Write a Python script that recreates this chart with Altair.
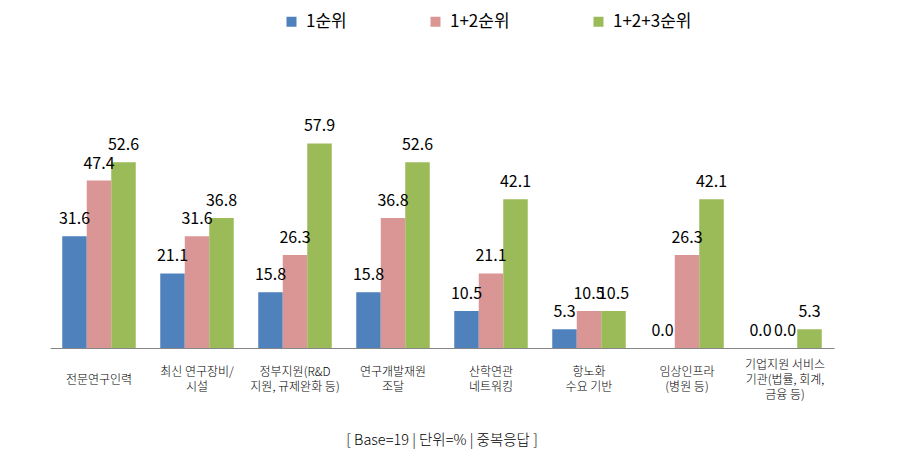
import altair as alt
import pandas as pd

categories = [
    "전문연구인력",
    "최신 연구장비/\n시설",
    "정부지원(R&D\n지원, 규제완화 등)",
    "연구개발재원\n조달",
    "산학연관\n네트워킹",
    "항노화\n수요 기반",
    "임상인프라\n(병원 등)",
    "기업지원 서비스\n기관(법률, 회계,\n금융 등)",
]
series = ["1순위", "1+2순위", "1+2+3순위"]
rank1 = [31.6, 21.1, 15.8, 15.8, 10.5, 5.3, 0.0, 0.0]
rank12 = [47.4, 31.6, 26.3, 36.8, 21.1, 10.5, 26.3, 0.0]
rank123 = [52.6, 36.8, 57.9, 52.6, 42.1, 10.5, 42.1, 5.3]
colors = ["#4F81BD", "#D99694", "#9BBB59"]
footer = "[ Base=19 | 단위=% | 중복응답 ]"

FONT = "Noto Sans CJK KR"

rows = []
for s, vals in zip(series, [rank1, rank12, rank123]):
    for c, v in zip(categories, vals):
        rows.append({"category": c, "series": s, "value": v, "label": f"{v:.1f}"})
df = pd.DataFrame(rows)

label_padding = {
    "condition": [
        {"test": "length(split(datum.label, '\\n')) == 3", "value": 16},
        {"test": "length(split(datum.label, '\\n')) == 2", "value": 23.5},
    ],
    "value": 31,
}

base = alt.Chart(df).encode(
    x=alt.X(
        "category:N",
        sort=categories,
        scale=alt.Scale(paddingInner=0.25, paddingOuter=0.125),
        axis=alt.Axis(
            title=None,
            labelAngle=0,
            ticks=False,
            domainColor="#868686",
            domainWidth=1,
            labelFont=FONT,
            labelFontSize=12,
            labelFontWeight=300,
            labelColor="#000000",
            labelExpr="split(datum.label, '\\n')",
            labelLineHeight=15,
            labelBaseline="middle",
            labelPadding=label_padding,
            labelLimit=0,
        ),
    ),
    xOffset=alt.XOffset("series:N", sort=series, scale=alt.Scale(paddingInner=0, paddingOuter=0)),
    y=alt.Y("value:Q", scale=alt.Scale(domain=[0, 60], nice=False, zero=True), axis=None),
)

bars = base.mark_bar().encode(
    color=alt.Color(
        "series:N",
        sort=series,
        scale=alt.Scale(domain=series, range=colors),
        legend=alt.Legend(
            orient="none",
            legendX=233,
            legendY=-123,
            direction="horizontal",
            title=None,
            symbolType="square",
            symbolSize=100,
            symbolStrokeWidth=0,
            labelFont=FONT,
            labelFontSize=17,
            labelFontWeight=400,
            labelColor="#000000",
            columnPadding=80,
            labelOffset=6,
            padding=0,
        ),
    )
)

labels = base.mark_text(
    dy=-12, baseline="alphabetic", fontSize=16, font=FONT, fontWeight=400, color="#000000"
).encode(text="label:N")

chart = (
    alt.layer(bars, labels)
    .properties(
        width=784,
        height=212,
        padding={"left": 50, "top": 136, "right": 69, "bottom": 117},
        autosize=alt.AutoSizeParams(type="none"),
        title=alt.TitleParams(
            footer,
            orient="bottom",
            anchor="middle",
            font=FONT,
            fontSize=14.5,
            fontWeight=300,
            color="#000000",
            offset=34,
        ),
        background="white",
    )
    .configure_view(stroke=None)
)

chart.save("out.html", embed_options={"renderer": "svg", "actions": False})
